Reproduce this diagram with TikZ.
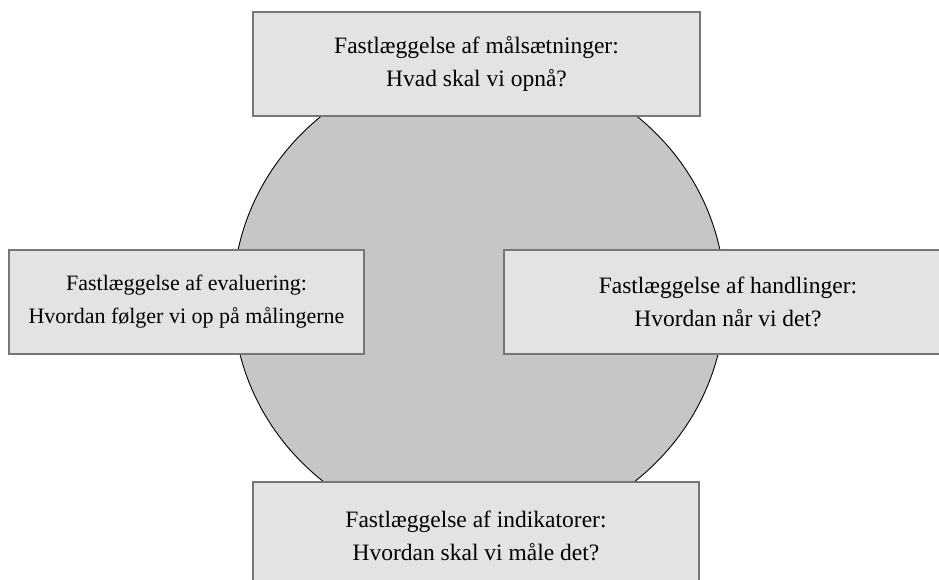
\documentclass[tikz,border=0pt]{standalone}
\usepackage{fontspec}
\usetikzlibrary{shapes.geometric}
\setmainfont{Liberation Serif}
\definecolor{boxfill}{HTML}{E2E3E2}
\definecolor{boxline}{HTML}{767676}
\definecolor{circfill}{HTML}{C6C6C6}
\tikzset{
  stepbox/.style={draw=boxline, line width=1.5pt, fill=boxfill, align=center,
    font=\fontsize{23.5}{33}\selectfont, text=black, inner sep=0pt},
}
\begin{document}
\begin{tikzpicture}[x=1pt,y=-1pt]
\useasboundingbox (0,0) rectangle (939,580);
\fill[white] (0,0) rectangle (939,580);
\begin{scope}
\clip (0,0) rectangle (939,580);
\node[ellipse, minimum width=492pt, minimum height=474pt, draw=black, line width=0.9pt, fill=circfill, inner sep=0pt] (core) at (479,298) {};
\node[stepbox, minimum width=447pt, minimum height=104pt] (goal) at (476.5,64) {Fastlæggelse af målsætninger:\\Hvad skal vi opnå?};
\node[stepbox, minimum width=355pt, minimum height=104pt, font=\fontsize{22}{33}\selectfont] (eval) at (186.5,302) {Fastlæggelse af evaluering:\\Hvordan følger vi op på målingerne};
\node[stepbox, minimum width=448pt, minimum height=104pt] (act) at (728,302) {Fastlæggelse af handlinger:\\Hvordan når vi det?};
\node[stepbox, minimum width=446pt, minimum height=108pt] (ind) at (476,536) {Fastlæggelse af indikatorer:\\Hvordan skal vi måle det?};
\end{scope}
\end{tikzpicture}
\end{document}
